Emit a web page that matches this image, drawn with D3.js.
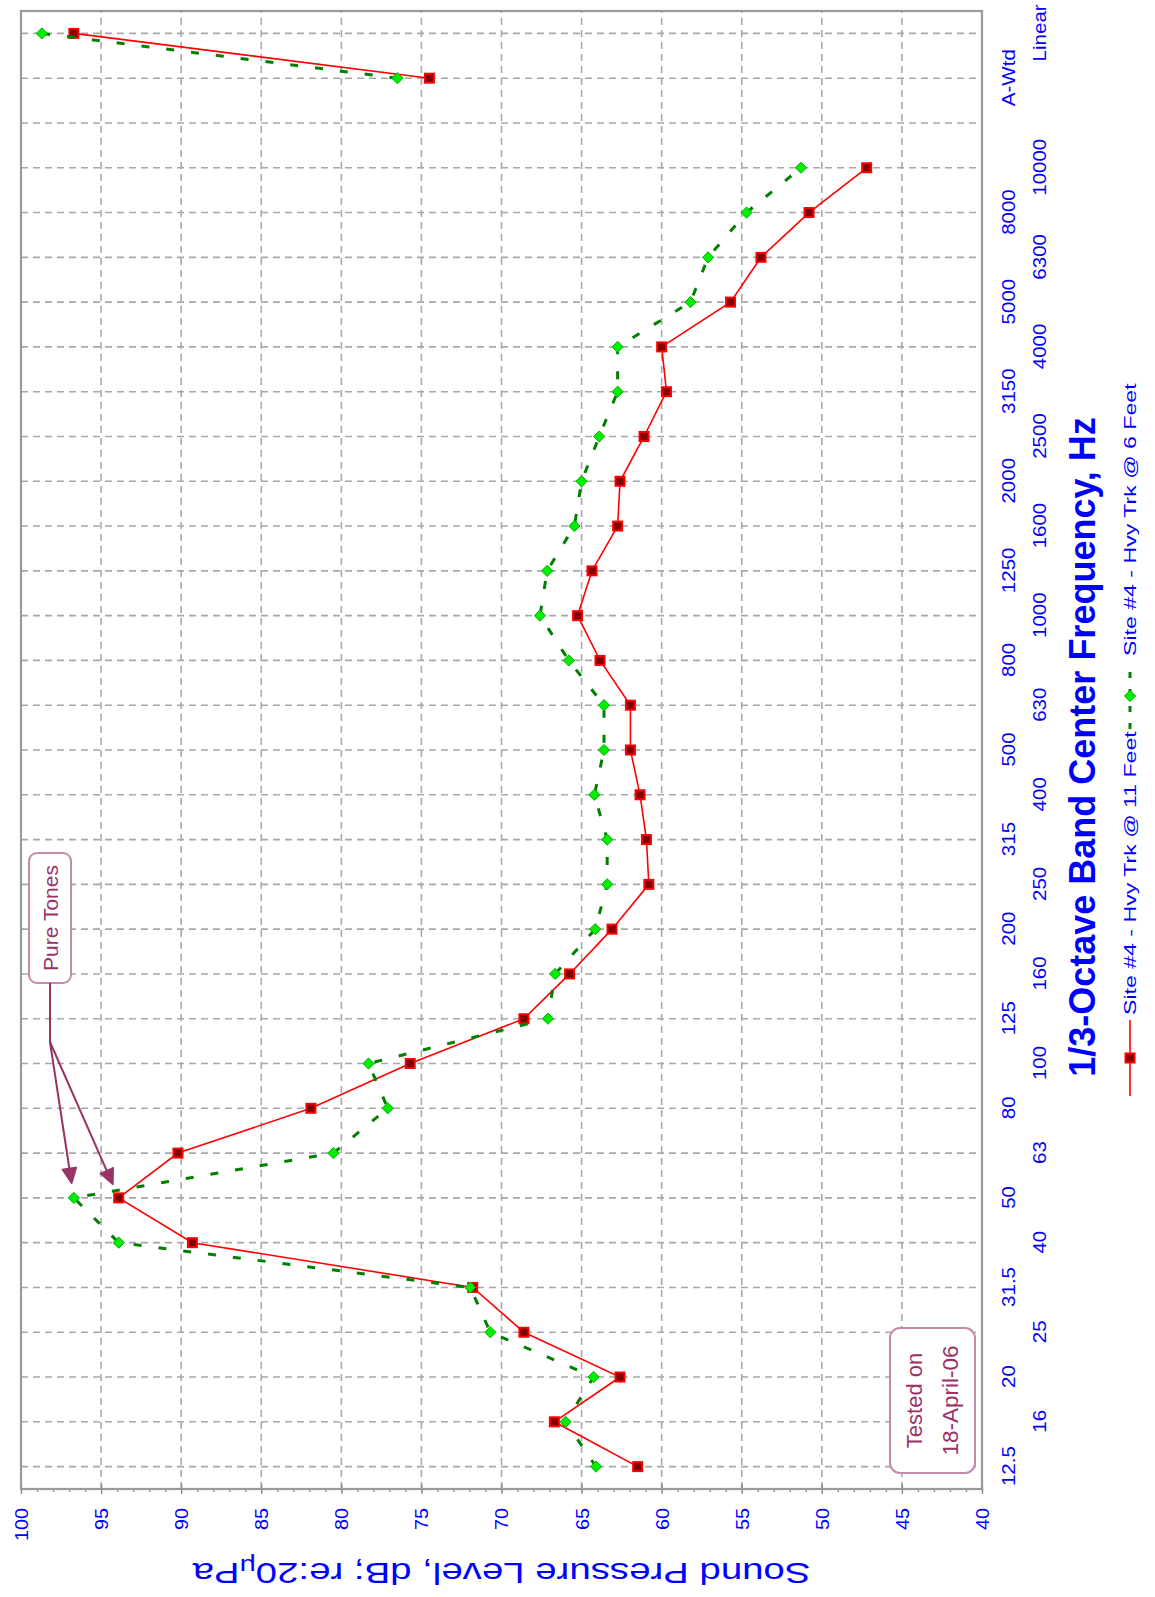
<!DOCTYPE html>
<html>
<head>
<meta charset="utf-8">
<script src="https://cdn.jsdelivr.net/npm/d3@7"></script>
<style>
  html, body { margin: 0; padding: 0; background: #fff; }
  svg { display: block; }
</style>
</head>
<body>
<svg id="chart" width="1155" height="1597"></svg>
<script>
// 1/3-octave band centre frequencies (blank slot separates the spectrum from the overall levels)
const bands = ["12.5","16","20","25","31.5","40","50","63","80","100","125","160","200","250","315",
  "400","500","630","800","1000","1250","1600","2000","2500","3150","4000","5000","6300","8000","10000",
  "","A-Wtd","Linear"];

// Sound pressure level, dB re 20 µPa
const trk11ft = [61.5,66.7,62.6,68.6,71.8,89.3,93.9,90.2,81.9,75.7,68.6,65.75,63.1,60.8,60.95,
  61.35,61.95,61.95,63.85,65.25,64.35,62.75,62.6,61.1,59.7,60.0,55.7,53.8,50.8,47.2,
  null,74.5,96.7];
const trk6ft = [64.1,66.0,64.25,70.7,71.95,93.9,96.7,80.5,77.1,78.3,67.1,66.65,64.15,63.4,63.4,
  64.2,63.6,63.6,65.8,67.6,67.15,65.45,65.0,63.9,62.75,62.75,58.2,57.1,54.7,51.3,
  null,76.5,98.7];

const levelTicks = [100,95,90,85,80,75,70,65,60,55,50,45,40];
const seriesNames = ["Site #4 - Hvy Trk @ 11 Feet", "Site #4 - Hvy Trk @ 6 Feet"];
const xTitle = "1/3-Octave Band Center Frequency, Hz";
const yTitle = "Sound Pressure Level, dB; re:20";
const noteTones = "Pure Tones";
const noteTested = ["Tested on", "18-April-06"];

// ---- layout: the chart is laid out landscape, then turned a quarter turn onto the page ----
const W = 1597;
const FONT = "'Liberation Sans', Arial, Helvetica, sans-serif";
const BLUE = "#0000ff";
const NOTE = "#993366";
const plot = { left: 108, right: 1586, top: 21, bottom: 982 };

const svg = d3.select("#chart");
const root = svg.append("g").attr("transform", `translate(0,${W}) rotate(-90)`);

const x = d3.scalePoint().domain(bands).range([plot.left, plot.right]).padding(0.5);
const y = d3.scaleLinear().domain([40, 100]).range([plot.bottom, plot.top]);

// ---- grid ----
const grid = root.append("g")
  .attr("fill", "none").attr("stroke", "#a8a8a8")
  .attr("stroke-width", 1.6).attr("stroke-dasharray", "7,5");
grid.selectAll("line.cat").data(bands).join("line").attr("class", "cat")
  .attr("x1", d => x(d)).attr("x2", d => x(d))
  .attr("y1", plot.top).attr("y2", plot.bottom);
grid.selectAll("line.lvl").data(levelTicks.filter(v => v > 40 && v < 100)).join("line").attr("class", "lvl")
  .attr("x1", plot.left).attr("x2", plot.right)
  .attr("y1", d => y(d)).attr("y2", d => y(d));

// ---- level axis (minor, inner and labelled major ticks) ----
const yAxisG = root.append("g").attr("transform", `translate(${plot.left},0)`);
yAxisG.append("g").call(d3.axisLeft(y).tickValues(d3.range(40, 101)).tickSize(3).tickFormat(""));
yAxisG.append("g").call(d3.axisLeft(y).tickValues(levelTicks).tickSize(-5).tickFormat(""));
const yMajor = yAxisG.append("g").call(d3.axisLeft(y).tickValues(levelTicks).tickSize(5).tickPadding(14));
yAxisG.selectAll(".domain").remove();
yAxisG.selectAll(".tick line").attr("stroke", "#8c8c8c").attr("stroke-width", 1.3);
const yStretch = 1.1;
yMajor.selectAll(".tick text")
  .attr("fill", BLUE).attr("font-family", FONT).attr("font-size", 18)
  .attr("x", -19 / yStretch).attr("dy", "0.36em")
  .attr("transform", `scale(${yStretch},1)`);

// ---- band axis, labels staggered on two rows ----
let k = 0;
const row = bands.map(b => (b === "" ? 0 : (k++) % 2));
const xAxisG = root.append("g").attr("transform", `translate(0,${plot.bottom})`)
  .call(d3.axisBottom(x).tickSize(0).tickPadding(0));
xAxisG.select(".domain").remove();
const xStretch = 1.08;
xAxisG.selectAll(".tick text")
  .attr("fill", BLUE).attr("font-family", FONT).attr("font-size", 19)
  .attr("dy", null)
  .attr("y", d => (row[bands.indexOf(d)] === 0 ? 33 : 64))
  .attr("transform", `scale(${xStretch},1)`);

// ---- plot frame ----
root.append("rect")
  .attr("x", plot.left).attr("y", plot.top)
  .attr("width", plot.right - plot.left).attr("height", plot.bottom - plot.top)
  .attr("fill", "none").attr("stroke", "#9a9a9a").attr("stroke-width", 2.2);

// ---- axis titles ----
root.append("text")
  .attr("x", (plot.left + plot.right) / 2 + 3).attr("y", 1095)
  .attr("text-anchor", "middle").attr("fill", BLUE)
  .attr("font-family", FONT).attr("font-weight", "bold").attr("font-size", 36)
  .text(xTitle);

const yt = root.append("text")
  .attr("transform", `translate(34,${(plot.top + plot.bottom) / 2}) rotate(-90) scale(1.28,1)`)
  .attr("text-anchor", "middle").attr("fill", BLUE)
  .attr("font-family", FONT).attr("font-size", 30);
yt.append("tspan").text(yTitle);
yt.append("tspan").attr("font-size", 22).attr("dy", 4).text("\u03BC");
yt.append("tspan").attr("dy", -4).text("Pa");

// ---- annotation boxes (white-filled, over the grid) ----
const pureBox = { x0: 614, x1: 744, y0: 29, y1: 71 };
root.append("rect")
  .attr("x", pureBox.x0).attr("y", pureBox.y0)
  .attr("width", pureBox.x1 - pureBox.x0).attr("height", pureBox.y1 - pureBox.y0)
  .attr("rx", 8).attr("fill", "#fff").attr("stroke", "#c48aab").attr("stroke-width", 2);
root.append("text")
  .attr("x", (pureBox.x0 + pureBox.x1) / 2).attr("y", (pureBox.y0 + pureBox.y1) / 2 + 7.5)
  .attr("text-anchor", "middle").attr("fill", NOTE)
  .attr("font-family", FONT).attr("font-size", 21).text(noteTones);

const testBox = { x0: 124, x1: 269, y0: 890, y1: 975 };
root.append("rect")
  .attr("x", testBox.x0).attr("y", testBox.y0)
  .attr("width", testBox.x1 - testBox.x0).attr("height", testBox.y1 - testBox.y0)
  .attr("rx", 10).attr("fill", "#fff").attr("stroke", "#c48aab").attr("stroke-width", 2);
root.append("text")
  .attr("x", (testBox.x0 + testBox.x1) / 2).attr("y", 922)
  .attr("text-anchor", "middle").attr("fill", NOTE)
  .attr("font-family", FONT).attr("font-size", 22).text(noteTested[0]);
root.append("text")
  .attr("x", (testBox.x0 + testBox.x1) / 2).attr("y", 958)
  .attr("text-anchor", "middle").attr("fill", NOTE)
  .attr("font-family", FONT).attr("font-size", 22.5).text(noteTested[1]);

// ---- pure-tone arrows, aimed at the 50 Hz points ----
const hub = [555, (pureBox.y0 + pureBox.y1) / 2];
const arrows = root.append("g").attr("stroke", NOTE).attr("fill", NOTE).attr("stroke-width", 2);
arrows.append("line")
  .attr("x1", pureBox.x0).attr("y1", hub[1]).attr("x2", hub[0]).attr("y2", hub[1]);
const i50 = bands.indexOf("50");
[[x("50"), y(trk6ft[i50])], [x("50"), y(trk11ft[i50])]].forEach(([tx, ty]) => {
  const dx = tx - hub[0], dy = ty - hub[1];
  const len = Math.hypot(dx, dy), ux = dx / len, uy = dy / len;
  const tip = [tx - ux * 14, ty - uy * 14];
  const base = [tip[0] - ux * 16, tip[1] - uy * 16];
  arrows.append("line")
    .attr("x1", hub[0]).attr("y1", hub[1]).attr("x2", base[0]).attr("y2", base[1]);
  arrows.append("path")
    .attr("stroke-width", 1)
    .attr("d", `M${tip[0]},${tip[1]}L${base[0] - uy * 7.5},${base[1] + ux * 7.5}L${base[0] + uy * 7.5},${base[1] - ux * 7.5}Z`);
});

// ---- series ----
const redData = bands.map((b, i) => ({ b, v: trk11ft[i] }));
const greenData = bands.map((b, i) => ({ b, v: trk6ft[i] }));
const line = d3.line().defined(d => d.v != null).x(d => x(d.b)).y(d => y(d.v));
const diamond = "M0,-5.6L5.6,0L0,5.6L-5.6,0Z";

root.append("path").datum(redData)
  .attr("fill", "none").attr("stroke", "#ff0000").attr("stroke-width", 1.6)
  .attr("d", line);
root.append("g").selectAll("rect").data(redData.filter(d => d.v != null)).join("rect")
  .attr("x", d => x(d.b) - 4.5).attr("y", d => y(d.v) - 4.5)
  .attr("width", 9).attr("height", 9)
  .attr("fill", "#800000").attr("stroke", "#ff0000").attr("stroke-width", 2);

root.append("path").datum(greenData)
  .attr("fill", "none").attr("stroke", "#008000").attr("stroke-width", 3)
  .attr("stroke-dasharray", "8,17")
  .attr("d", line);
root.append("g").selectAll("path").data(greenData.filter(d => d.v != null)).join("path")
  .attr("transform", d => `translate(${x(d.b)},${y(d.v)})`)
  .attr("d", diamond)
  .attr("fill", "#00ee00").attr("stroke", "#00b000").attr("stroke-width", 1);

// ---- legend ----
const legY = 1130;
const legStretch = 1.36;
const leg = root.append("g");
leg.append("line").attr("x1", 501).attr("x2", 577).attr("y1", legY).attr("y2", legY)
  .attr("stroke", "#ff0000").attr("stroke-width", 1.6);
leg.append("rect").attr("x", 539 - 4.5).attr("y", legY - 4.5).attr("width", 9).attr("height", 9)
  .attr("fill", "#800000").attr("stroke", "#ff0000").attr("stroke-width", 2);
leg.append("text").attr("transform", `translate(582,${legY + 6}) scale(${legStretch},1)`)
  .attr("fill", BLUE).attr("font-family", FONT).attr("font-size", 17).text(seriesNames[0]);

leg.append("line").attr("x1", 868).attr("x2", 934).attr("y1", legY).attr("y2", legY)
  .attr("stroke", "#008000").attr("stroke-width", 3).attr("stroke-dasharray", "6,11");
leg.append("path").attr("transform", `translate(901,${legY})`).attr("d", diamond)
  .attr("fill", "#00ee00").attr("stroke", "#00b000").attr("stroke-width", 1);
leg.append("text").attr("transform", `translate(941,${legY + 6}) scale(${legStretch},1)`)
  .attr("fill", BLUE).attr("font-family", FONT).attr("font-size", 17).text(seriesNames[1]);
</script>
</body>
</html>
